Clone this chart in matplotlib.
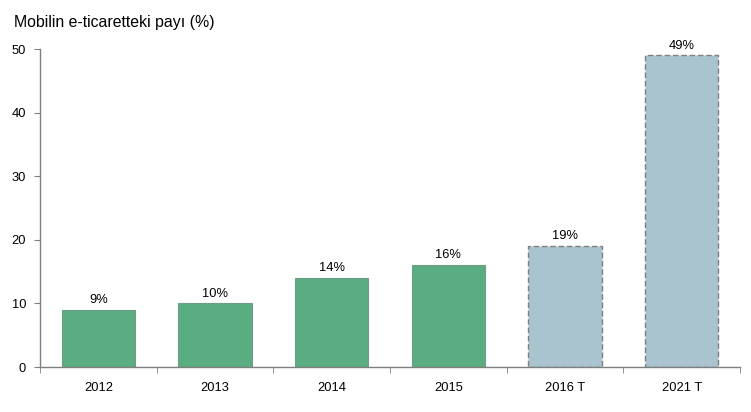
import matplotlib.pyplot as plt
import numpy as np

plt.rcParams['font.family'] = ['Liberation Sans', 'DejaVu Sans']

years = ['2012', '2013', '2014', '2015', '2016 T', '2021 T']
share = [9, 10, 14, 16, 19, 49]
is_forecast = [False, False, False, False, True, True]

green = '#5aad80'
grey_blue = '#a9c4ce'
edge = '#7f7f7f'

fig = plt.figure(figsize=(7.51, 4.12), dpi=100)
ax = fig.add_axes([0.0533, 0.109, 0.932, 0.772])

x = np.arange(len(years))
for xi, val, fc in zip(x, share, is_forecast):
    if fc:
        # prognoz barlari: kesikli kenar
        ax.bar(xi, val, width=0.63, color=grey_blue, edgecolor=edge,
               linewidth=1.0, linestyle=(0, (4, 2)), zorder=2)
    else:
        ax.bar(xi, val, width=0.63, color=green, edgecolor='#6f9c84',
               linewidth=0.8, zorder=2)
    ax.text(xi, val + 0.6, f'{val}%', ha='center', va='bottom', fontsize=9.3)

ax.set_xlim(-0.5, len(years) - 0.5)
ax.set_ylim(0, 50)
ax.set_yticks(range(0, 51, 10))
ax.set_xticks(x)
ax.set_xticklabels(years, fontsize=9.3)
ax.set_xticks(np.arange(-0.5, len(years)), minor=True)
ax.tick_params(axis='x', which='major', length=0, pad=11)
ax.tick_params(axis='x', which='minor', length=4, color=edge, direction='out')
ax.tick_params(axis='y', length=4, color=edge, labelsize=9.3, pad=6)

for s in ['top', 'right']:
    ax.spines[s].set_visible(False)
for s in ['left', 'bottom']:
    ax.spines[s].set_color(edge)
    ax.spines[s].set_linewidth(1.0)

fig.text(0.018, 0.945, 'Mobilin e-ticaretteki payı (%)', fontsize=11.4, ha='left', va='center')

fig.savefig('out.png', dpi=100)
